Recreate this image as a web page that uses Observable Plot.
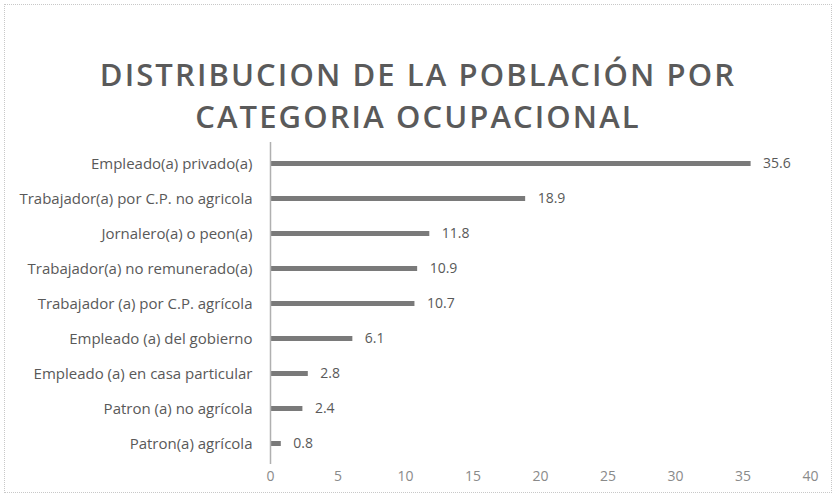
<!DOCTYPE html>
<html>
<head>
<meta charset="utf-8">
<script src="https://cdn.jsdelivr.net/npm/d3@7"></script>
<script src="https://cdn.jsdelivr.net/npm/@observablehq/plot@0.6"></script>
<style>
  html, body { margin: 0; padding: 0; background: #fff; }
  #wrap { position: relative; width: 836px; height: 497px; overflow: hidden; background: #fff; }
  #frame { position: absolute; left: 4px; top: 4px; right: 4px; bottom: 4px; border: 1px dotted #c8c8c8; }
  #title { position: absolute; left: 0; width: 836px; top: 53px; text-align: center;
    font-family: "Open Sans", Lato, sans-serif; font-weight: 600; font-size: 31px; letter-spacing: 2.1px;
    line-height: 42px; color: #5a5a5a; }
  #chart { position: absolute; left: 0; top: 135px; }
</style>
</head>
<body>
<div id="wrap">
  <div id="frame"></div>
  <div id="title">DISTRIBUCION DE LA POBLACIÓN POR<br>CATEGORIA OCUPACIONAL</div>
  <div id="chart"></div>
</div>
<script>
const categories = [
  "Empleado(a) privado(a)",
  "Trabajador(a) por C.P. no agricola",
  "Jornalero(a) o peon(a)",
  "Trabajador(a) no remunerado(a)",
  "Trabajador (a) por C.P. agrícola",
  "Empleado (a) del gobierno",
  "Empleado (a) en casa particular",
  "Patron (a) no agrícola",
  "Patron(a) agrícola"
];
const values = [35.6, 18.9, 11.8, 10.9, 10.7, 6.1, 2.8, 2.4, 0.8];
const xTicks = [0, 5, 10, 15, 20, 25, 30, 35, 40];

const data = categories.map((c, i) => ({category: c, value: values[i]}));

const chart = Plot.plot({
  width: 836,
  height: 362,
  marginLeft: 270,
  marginRight: 26,
  marginTop: 7,
  marginBottom: 33,
  style: {fontFamily: "'Open Sans', Lato, sans-serif", fontSize: "14px", color: "#595959", background: "transparent"},
  x: {domain: [0, 40], ticks: xTicks},
  y: {domain: categories, padding: 0},
  marks: [
    Plot.barX(data, {y: "category", x: "value", fill: "#7a7a7a", insetTop: 15, insetBottom: 15}),
    Plot.ruleX([0], {stroke: "#b0b0b0", strokeWidth: 1.5}),
    Plot.text(data, {y: "category", x: "value", text: d => d.value.toFixed(1), dx: 12, textAnchor: "start", fill: "#595959", fontSize: 14}),
    Plot.axisY({tickSize: 0, tickPadding: 18, label: null, fill: "#595959", fontSize: 15}),
    Plot.axisX({ticks: xTicks, tickSize: 0, tickPadding: 7, label: null, fill: "#8a8a8a", fontSize: 14})
  ]
});
document.getElementById("chart").appendChild(chart);
</script>
</body>
</html>
